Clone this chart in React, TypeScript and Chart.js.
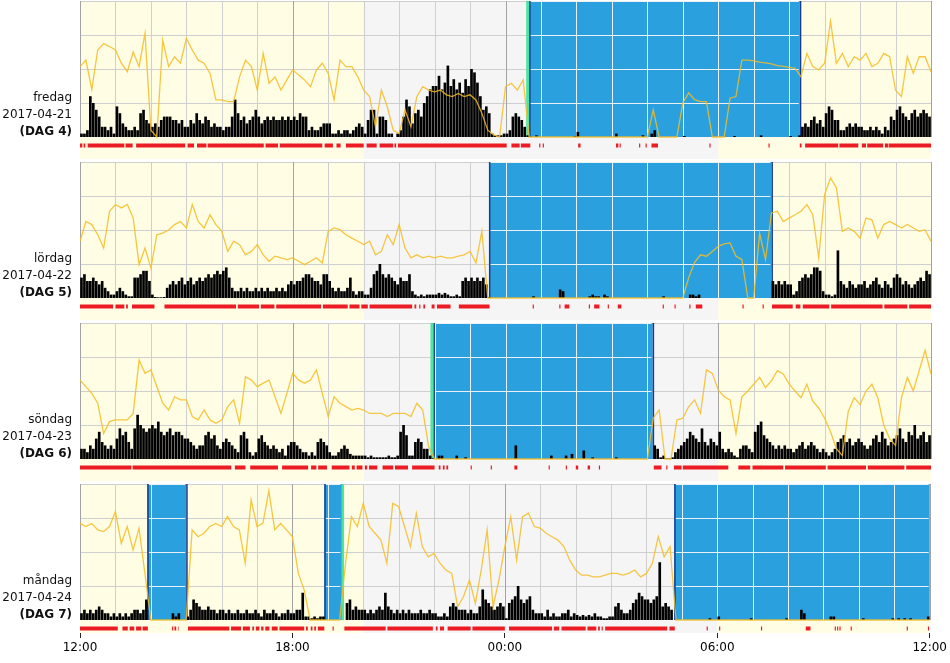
import React, { useEffect, useRef } from 'react';
import { Chart, registerables } from 'chart.js';

Chart.register(...registerables);

// ---------- text ----------
const DAY_NAMES = ['fredag', 'lördag', 'söndag', 'måndag'];
const DATES = ['2017-04-21', '2017-04-22', '2017-04-23', '2017-04-24'];
const DAY_TAGS = ['(DAG 4)', '(DAG 5)', '(DAG 6)', '(DAG 7)'];
const TICK_LABELS = ['12:00', '18:00', '00:00', '06:00', '12:00'];

// minutes after 12:00 ; night = 20:00 - 06:00
const NIGHT = [480, 1080];

// ---------- activity (5-minute bins, tenths of a grid division) ----------
const ACT_1 = [
  1, 1, 2, 12, 10, 8, 6, 3, 3, 2, 3, 1,
  9, 7, 4, 3, 2, 2, 3, 2, 7, 8, 5, 4,
  3, 4, 3, 5, 6, 6, 6, 5, 5, 4, 5, 3,
  3, 5, 4, 7, 5, 4, 6, 5, 3, 4, 3, 3,
  2, 3, 3, 6, 11, 7, 5, 6, 4, 5, 6, 8,
  6, 4, 5, 6, 5, 6, 5, 5, 6, 5, 6, 5,
  6, 5, 7, 6, 6, 2, 3, 2, 2, 3, 4, 4,
  4, 1, 1, 2, 1, 2, 2, 1, 2, 3, 4, 3,
  1, 5, 8, 8, 1, 6, 6, 5, 1, 1, 0, 1,
  2, 6, 11, 9, 4, 7, 8, 6, 10, 12, 14, 15,
  15, 18, 14, 16, 21, 15, 17, 14, 16, 13, 17, 15,
  20, 19, 16, 12, 8, 9, 7, 1, 0.5, 0.5, 0.5, 1,
  1, 2, 6, 7, 6, 5, 3, 0.5, 0.2, 0, 0.5, 0,
  0, 0, 0, 0, 0, 0, 0, 0, 0, 0, 0, 0.3,
  1.5, 0, 0, 0, 0, 0, 0, 0, 0, 0, 0, 0,
  0, 1, 0, 0, 0, 0, 0, 0, 0, 0, 0.5, 0,
  0, 1, 2, 0, 0, 0, 0, 0, 0, 0, 0, 0,
  0.3, 0, 0, 0, 0, 0, 0, 0, 0, 0, 0, 0,
  0, 0, 0, 0, 0, 0.3, 0, 0, 0, 0, 0, 0,
  0, 0, 0.5, 0, 0, 0, 0, 0, 0, 0, 0, 0,
  0.3, 0, 0, 0.5, 3, 4, 3, 5, 6, 4, 5, 3,
  7, 9, 8, 5, 5, 2, 2, 3, 4, 3, 4, 3,
  3, 2, 2, 3, 2, 3, 2, 1, 3, 2, 6, 5,
  8, 9, 7, 6, 5, 7, 8, 6, 7, 8, 7, 6,
];
const ACT_2 = [
  6, 7, 5, 5, 6, 5, 4, 5, 3, 2, 1, 1,
  2, 3, 2, 1, 0.5, 0.5, 6, 6, 7, 8, 8, 5,
  1, 0.3, 0.2, 0.2, 0.3, 3, 4, 5, 4, 5, 6, 4,
  5, 6, 4, 5, 6, 5, 6, 7, 6, 7, 8, 7,
  8, 9, 6, 3, 2, 2, 3, 2, 3, 2, 2, 3,
  2, 3, 2, 3, 2, 2, 3, 2, 3, 2, 4, 5,
  4, 5, 5, 6, 7, 7, 6, 5, 5, 4, 7, 7,
  5, 3, 2, 3, 2, 2, 3, 6, 2, 1, 2, 2,
  1, 1, 3, 7, 8, 10, 7, 6, 7, 6, 5, 4,
  6, 5, 5, 7, 2, 1, 0.5, 1, 0.5, 1, 1, 1,
  1, 1.5, 1, 1.5, 1, 0.5, 0.5, 1, 0.5, 5, 6, 5,
  6, 5, 6, 5, 6, 4, 0.3, 0, 0, 0, 0, 0,
  0, 0, 0, 0, 0, 0, 0, 0, 0, 0.5, 0, 0,
  0, 0, 0, 0, 0, 0, 2.5, 2, 0, 0, 0, 0,
  0, 0, 0, 0, 0.5, 1, 0.5, 0.5, 0, 1, 0.5, 0,
  0, 0, 0, 0, 0, 0, 0, 0, 0, 0, 0, 0,
  0, 0, 0, 0, 0, 0.5, 0, 0, 0, 0, 0, 0,
  0, 0, 1, 1, 0.5, 1, 0, 0, 0, 0, 0, 0,
  0, 0, 0, 0, 0, 0, 0, 0, 0, 0, 0, 0,
  0, 0, 0, 0, 0, 0, 5, 4, 5, 4, 5, 4,
  4, 1, 2, 5, 6, 7, 6, 7, 9, 9, 8, 2,
  1, 1, 0.5, 1, 14, 5, 4, 3, 5, 4, 3, 4,
  4, 5, 3, 4, 5, 6, 4, 3, 5, 4, 3, 6,
  7, 6, 4, 5, 4, 3, 4, 5, 6, 5, 8, 7,
];
const ACT_3 = [
  3, 3, 2, 4, 3, 6, 8, 5, 4, 3, 4, 3,
  6, 9, 7, 8, 5, 3, 9, 13, 10, 9, 8, 9,
  10, 9, 11, 8, 7, 8, 9, 7, 8, 8, 7, 6,
  6, 5, 4, 3, 4, 4, 7, 8, 6, 7, 4, 3,
  5, 6, 5, 4, 3, 2, 7, 8, 6, 2, 1, 2,
  6, 7, 5, 4, 3, 4, 3, 2, 3, 1, 4, 5,
  5, 4, 3, 2, 2, 1, 2, 1, 5, 6, 5, 4,
  2, 1, 1, 2, 3, 4, 3, 1.5, 1, 1, 1, 1,
  1, 0.5, 1, 0.5, 0.5, 0.5, 0.5, 0.5, 1, 0.5, 0.5, 1,
  8, 10, 7, 1, 1, 5, 6, 5, 3, 3, 1, 0.2,
  0, 1, 1, 0, 0, 0, 0, 1, 0, 0, 0.5, 0,
  0, 0, 0, 0, 0, 0, 0, 0, 0, 0, 0, 0,
  0, 0, 0, 4, 0, 0, 0, 0, 0, 0, 0, 0,
  0, 0, 0, 1, 0, 0, 0, 0, 1, 0, 1.5, 0,
  0, 0, 2.5, 0, 0, 0.5, 0, 0, 0, 0, 0, 0,
  0, 0.5, 0, 0, 0, 0, 0, 0, 0, 0, 0, 0,
  0, 0, 4, 3, 0.5, 1, 0.2, 0.2, 0.5, 2, 3, 4,
  5, 6, 8, 7, 6, 5, 9, 5, 4, 6, 5, 4,
  8, 3, 2, 3, 2, 1, 0.5, 3, 4, 4, 3, 2,
  8, 10, 11, 7, 6, 5, 4, 3, 4, 3, 4, 3,
  3, 2, 3, 4, 5, 3, 4, 5, 4, 3, 2, 3,
  2, 1, 2, 3, 5, 6, 7, 5, 6, 4, 5, 6,
  5, 4, 3, 4, 6, 7, 5, 8, 6, 4, 5, 6,
  7, 9, 6, 5, 8, 7, 10, 6, 7, 8, 5, 7,
];
const ACT_4 = [
  2, 3, 2, 3, 2, 3, 4, 3, 2, 2, 1, 2,
  1, 2, 1, 2, 1, 2, 3, 3, 2, 3, 6, 0,
  0, 0, 0, 0, 0, 0, 0, 2, 1, 2, 0, 0,
  1, 3, 6, 5, 4, 3, 3, 4, 3, 3, 2, 3,
  3, 2, 3, 2, 2, 3, 2, 2, 3, 2, 2, 3,
  2, 1, 3, 2, 2, 3, 2, 1, 2, 2, 3, 2,
  2, 3, 3, 8, 1, 1, 0.5, 1, 0.5, 1, 1, 0,
  0, 0, 0, 0, 0, 0, 5, 6, 3, 4, 3, 3,
  3, 2, 3, 2, 3, 4, 3, 8, 4, 3, 2, 3,
  2, 3, 2, 3, 2, 2, 2, 3, 2, 2, 3, 2,
  2, 1, 1, 2, 1, 4, 5, 4, 3, 3, 3, 2,
  3, 2, 2, 4, 9, 6, 5, 4, 3, 4, 5, 4,
  0.5, 5, 6, 7, 10, 6, 5, 6, 7, 3, 2, 2,
  2, 1, 3, 1, 2, 1, 1, 2, 2, 3, 1, 2,
  1.5, 1, 1.5, 1, 1.5, 1, 2, 1, 1, 0.5, 0.5, 1,
  1, 4, 5, 3, 2, 2, 3, 5, 6, 8, 7, 6,
  6, 5, 6, 7, 17, 4, 5, 4, 3, 0, 0, 0,
  0, 0, 0, 0, 0, 0, 0, 0, 0, 0.5, 0, 0,
  1, 0, 0, 0, 0, 0, 0, 0, 0, 0, 0, 0.5,
  0, 0, 0, 0, 0, 0, 0, 0, 0, 0, 0, 0.5,
  0, 0, 0, 0, 3, 2, 0, 0, 0, 0, 0, 0,
  0, 0, 1, 1, 0, 0, 0, 0, 0, 0, 0, 0,
  0, 0.5, 0, 0, 0, 0, 0, 0, 0, 0, 0, 0.5,
  0, 0.5, 0, 0.5, 0, 0.5, 0, 0, 0, 0, 0, 1,
];

// ---------- light (10-minute samples, 12:00 .. 12:00) ----------
const LIGHT_1 = [
  20.7, 22.6, 14, 25.6, 27.5, 26.6,
  25.6, 21.7, 19.2, 25, 20.7, 30.5,
  2, 0, 28.5, 20.7, 23.6, 21.7,
  29, 25.6, 22.6, 21.7, 18.7, 10.9,
  10.9, 10.4, 10.4, 17.7, 22.6, 20.7,
  13.8, 24.6, 15.8, 17.7, 13.8, 16.8,
  19.7, 18.2, 16.8, 14.8, 19.7, 21.7,
  18.7, 10.9, 22.6, 20.7, 20.7, 17.7,
  13.8, 11.9, 3, 13.8, 8.9, 2,
  1, 8, 3, 11.9, 14.8, 13.8,
  13.3, 13.8, 12.4, 11.9, 12.8, 11.9,
  12.4, 10.9, 7, 2, 0.6, 0,
  14.8, 15.8, 13.8, 16.8, 0, 0,
  0, 0, 0, 0, 0, 0,
  0, 0, 0, 0, 0, 0,
  0, 0, 0, 0, 0, 0,
  0, 8, 0, 0, 0, 0,
  10, 13, 11, 10.4, 10.4, 0,
  0, 0, 11.4, 11.9, 22.6, 22.6,
  22.4, 22, 21.8, 21.5, 21, 20.8,
  20.5, 20.2, 17.7, 24.6, 20.7, 19.7,
  21.7, 34, 21.7, 24.6, 20.7, 23.6,
  22.6, 24.6, 20.7, 21.7, 24.6, 23.6,
  13.8, 11.9, 23.6, 18.7, 23.6, 23.6,
  19.2,
];
const LIGHT_2 = [
  16.7, 22.5, 21.6, 18.6, 14.7, 25.5,
  27.5, 26.5, 27.5, 23.5, 9.8, 14.7,
  8.8, 18.6, 19.1, 20, 21.6, 22.5,
  20.6, 27.5, 22.5, 20.6, 24.5, 21.6,
  19.6, 13.7, 16.7, 15.7, 12.7, 13.7,
  15.7, 12.7, 10.8, 12.3, 11.8, 11.3,
  11.8, 10.8, 9.8, 10.8, 11.8, 10.3,
  19.6, 20.6, 20.1, 18.6, 17.6, 16.7,
  15.7, 16.7, 12.7, 13.7, 18.6, 15.7,
  21.6, 14.7, 11.8, 12.7, 11.8, 12.3,
  11.8, 12.3, 11.8, 11.8, 12.3, 12.7,
  13.7, 10.3, 19.6, 0, 0, 0,
  0, 0, 0, 0, 0, 0,
  0, 0, 0, 0, 0, 0,
  0, 0, 0, 0, 0, 0,
  0, 0, 0, 0, 0, 0,
  0, 0, 0, 0, 0, 0,
  0, 6, 10.5, 12.7, 12.3, 13.7,
  15.2, 15.9, 16.2, 12.3, 11.3, 0,
  0, 19, 11.3, 25, 25.5, 22.5,
  23.5, 24.5, 25.5, 27.5, 24.5, 11.8,
  30.4, 35.3, 32.4, 19.6, 20.6, 19.6,
  17.6, 23.5, 23, 17.6, 21.6, 22.5,
  21.6, 20.6, 21.6, 20.6, 19.6, 20.1,
  16.7,
];
const LIGHT_3 = [
  23.2, 21.3, 19.3, 16.4, 7.5, 11,
  11.5, 11.5, 11.5, 13.4, 29.1, 25.2,
  26.2, 21.3, 16.4, 14.4, 18.3, 17.4,
  17.4, 12.5, 11.5, 14.4, 11.5, 10.5,
  11.5, 15.4, 17.4, 10.5, 24.2, 23.2,
  21.3, 22.3, 23.2, 18.3, 13.4, 19.3,
  25.2, 23.2, 22.3, 23.2, 26.2, 19.3,
  12.5, 18.3, 16.4, 15.4, 14.4, 14.9,
  14.4, 13.4, 13.4, 13.4, 12.5, 13.4,
  13.4, 13.4, 12.5, 16.4, 14.4, 3.6,
  0, 0, 0, 0, 0, 0,
  0, 0, 0, 0, 0, 0,
  0, 0, 0, 0, 0, 0,
  0, 0, 0, 0, 0, 0,
  0, 0, 0, 0, 0, 0,
  0, 0, 0, 0, 0, 0,
  0, 12, 14.4, 0, 0, 11.5,
  12, 15.4, 17.4, 13.4, 26.2, 25.2,
  20.3, 18.3, 17.4, 7.5, 18.3, 20,
  22, 24, 21, 23, 26, 25,
  22, 20, 18, 22, 17, 15,
  12, 8, 3, 1, 14, 18,
  16, 20, 22, 18, 10, 6,
  4, 18, 24, 20, 26, 32,
  25,
];
const LIGHT_4 = [
  28.4, 27.5, 28.4, 26.5, 26, 27.5,
  31.9, 22.5, 27.5, 20.6, 27, 13.7,
  0, 0, 0, 0, 0, 0,
  0, 26.5, 24.5, 25.5, 27.5, 28.4,
  27.5, 30.4, 27.5, 26.5, 16.7, 35.3,
  27.5, 28.4, 38, 26.5, 28.4, 26.5,
  24.5, 13.7, 8.8, 0, 0, 0,
  0, 0, 0, 16.7, 30.4, 27.5,
  34.3, 27.5, 25.5, 23.5, 16.7, 34.3,
  33.3, 27.5, 21.6, 31.4, 21.6, 18.6,
  19.6, 16.7, 14.7, 13.7, 3.9, 6.9,
  11.8, 4.9, 14.7, 26.5, 3.9, 11.8,
  21.6, 30.4, 17.6, 30.4, 31.4, 27.5,
  27, 25.5, 24.5, 23.5, 21.6, 17.6,
  14.7, 13.2, 13.2, 12.7, 12.7, 13.2,
  13.7, 13.7, 13.2, 13.7, 14.7, 12.7,
  13.7, 16.7, 24.5, 18.6, 21.6, 0,
  0, 0, 0, 0, 0, 0,
  0, 0, 0, 0, 0, 0,
  0, 0, 0, 0, 0, 0,
  0, 0, 0, 0, 0, 0,
  0, 0, 0, 0, 0, 0,
  0, 0, 0, 0, 0, 0,
  0, 0, 0, 0, 0, 0,
  0,
];

// ---------- red marker strip (intervals, minutes after 12:00) ----------
const MARKS_1 = [
  [0, 4], [6, 9], [13, 75], [77, 89], [95, 178], [182, 193], [198, 214], [216, 311],
  [314, 335], [338, 410], [414, 428], [434, 441], [450, 480], [485, 502], [507, 530],
  [532, 535], [538, 722], [730, 744], [746, 762], [777, 779], [783, 785], [843, 847],
  [907, 911], [913, 915], [946, 948], [957, 959], [967, 978], [1065, 1067], [1165, 1167],
  [1218, 1221], [1227, 1283], [1285, 1317], [1323, 1330], [1332, 1359], [1362, 1368], [1369, 1440],
];
const MARKS_2 = [
  [0, 56], [60, 75], [78, 81], [88, 126], [143, 264], [267, 303], [306, 329], [332, 408],
  [411, 453], [456, 473], [476, 487], [490, 562], [566, 569], [574, 576], [581, 584],
  [595, 600], [604, 627], [641, 693], [766, 768], [811, 813], [820, 828], [861, 863],
  [870, 879], [893, 895], [910, 916], [986, 988], [1006, 1008], [1031, 1033], [1042, 1053],
  [1121, 1123], [1155, 1157], [1171, 1206], [1211, 1219], [1223, 1268], [1271, 1358],
  [1361, 1400], [1403, 1440],
];
const MARKS_3 = [
  [0, 87], [89, 256], [262, 280], [288, 335], [342, 386], [391, 400], [403, 418],
  [426, 456], [460, 465], [468, 478], [482, 486], [489, 503], [512, 530], [533, 555],
  [562, 600], [607, 610], [614, 617], [620, 623], [661, 663], [695, 697], [735, 740],
  [793, 795], [822, 824], [839, 843], [859, 863], [878, 880], [971, 984], [992, 994],
  [1005, 1018], [1020, 1097], [1114, 1134], [1138, 1190], [1193, 1262], [1265, 1330],
  [1333, 1395], [1398, 1440],
];
const MARKS_4 = [
  [0, 64], [72, 81], [84, 92], [95, 104], [106, 115], [156, 158], [160, 163], [166, 167],
  [183, 253], [256, 273], [276, 288], [292, 295], [298, 304], [307, 311], [314, 321],
  [325, 335], [338, 380], [383, 386], [391, 394], [397, 400], [403, 414], [428, 430],
  [434, 435], [448, 518], [521, 598], [603, 606], [610, 617], [623, 662], [665, 720],
  [727, 800], [803, 812], [816, 857], [860, 875], [878, 881], [884, 886], [890, 995],
  [999, 1008], [1062, 1064], [1083, 1085], [1154, 1156], [1230, 1238], [1279, 1281],
  [1283, 1285], [1287, 1289], [1306, 1308], [1401, 1403], [1437, 1439],
];

// ---------- sleep periods (blue) and onset markers (green) ----------
const SLEEP_1 = [[760, 1218]];
const SLEEP_2 = [[692, 1170]];
const SLEEP_3 = [[598, 969]];
const SLEEP_4 = [[114, 180], [414, 443], [1007, 1440]];
const ONSET_1 = [[755, 760]];
const ONSET_2: number[][] = [];
const ONSET_3 = [[593, 598]];
const ONSET_4 = [[443, 447.5]];

const PANELS = [
  { act: ACT_1, light: LIGHT_1, marks: MARKS_1, sleep: SLEEP_1, onset: ONSET_1 },
  { act: ACT_2, light: LIGHT_2, marks: MARKS_2, sleep: SLEEP_2, onset: ONSET_2 },
  { act: ACT_3, light: LIGHT_3, marks: MARKS_3, sleep: SLEEP_3, onset: ONSET_3 },
  { act: ACT_4, light: LIGHT_4, marks: MARKS_4, sleep: SLEEP_4, onset: ONSET_4 },
];

// ---------- style ----------
const YELLOW = '#fffde3';
const GRAY = '#f5f5f5';
const BLUE = '#2aa1de';
const NAVY = '#1b3c8e';
const GREEN = '#4fe3a0';
const GRID = '#cfcfcf';
const GRID_MAJOR = '#a3a3a3';
const GRID_ON_BLUE = '#e9f1f6';
const RED = '#ec1c24';
const LIGHT_COLOR = 'rgba(244,188,36,0.85)';
const FONT = '"DejaVu Sans", Verdana, sans-serif';
const STRIP_Y = -2.5;
const PANEL_STEP = 161;
const LAST_H = 663 - 3 * PANEL_STEP;

function Panel({ idx }: { idx: number }) {
  const ref = useRef<HTMLCanvasElement>(null);
  const last = idx === PANELS.length - 1;
  const h = last ? LAST_H : PANEL_STEP;

  useEffect(() => {
    const p = PANELS[idx];
    const areaBottom = last ? 150 : 159;
    const yMin = 40 - (areaBottom - 1) / 3.4;

    const stripData: { x: number; y: number | null }[] = [];
    p.marks.forEach(([s, e]) => {
      stripData.push({ x: s, y: STRIP_Y }, { x: e, y: STRIP_Y }, { x: e, y: null });
    });

    const backdrop = {
      id: 'backdrop' + idx,
      beforeDatasetsDraw(chart: any) {
        const { ctx, chartArea: a, scales } = chart;
        const x = scales.x;
        const y = scales.y;
        const yTop = y.getPixelForValue(40);
        const yBase = y.getPixelForValue(0);
        ctx.save();
        ctx.fillStyle = YELLOW;
        ctx.fillRect(a.left, a.top, a.right - a.left, a.bottom - a.top);
        const n0 = x.getPixelForValue(NIGHT[0]);
        const n1 = x.getPixelForValue(NIGHT[1]);
        ctx.fillStyle = GRAY;
        ctx.fillRect(n0, a.top, n1 - n0, a.bottom - a.top);

        const drawGrid = (minor: string, major: string) => {
          ctx.lineWidth = 1;
          for (let v = 10; v <= 40; v += 10) {
            const py = Math.round(y.getPixelForValue(v)) + 0.5;
            ctx.strokeStyle = minor;
            ctx.beginPath();
            ctx.moveTo(a.left, py);
            ctx.lineTo(a.right, py);
            ctx.stroke();
          }
          for (let hr = 0; hr <= 24; hr++) {
            const px = Math.round(x.getPixelForValue(hr * 60)) + 0.5;
            ctx.strokeStyle = hr % 6 === 0 ? major : minor;
            ctx.beginPath();
            ctx.moveTo(px, yTop);
            ctx.lineTo(px, yBase);
            ctx.stroke();
          }
        };
        drawGrid(GRID, GRID_MAJOR);

        p.sleep.forEach(([s, e]) => {
          const x0 = x.getPixelForValue(s);
          const x1 = x.getPixelForValue(e);
          ctx.fillStyle = BLUE;
          ctx.fillRect(x0, yTop, x1 - x0, yBase - yTop);
          ctx.save();
          ctx.beginPath();
          ctx.rect(x0 + 1, yTop, x1 - x0 - 2, yBase - yTop);
          ctx.clip();
          drawGrid(GRID_ON_BLUE, GRID_ON_BLUE);
          ctx.restore();
          ctx.strokeStyle = NAVY;
          ctx.lineWidth = 1.5;
          [x0, x1].forEach((px) => {
            if (px < a.right - 1) {
              ctx.beginPath();
              ctx.moveTo(px + 0.75, yTop);
              ctx.lineTo(px + 0.75, yBase);
              ctx.stroke();
            }
          });
        });
        p.onset.forEach(([s, e]) => {
          const x0 = x.getPixelForValue(s);
          const x1 = x.getPixelForValue(e);
          ctx.fillStyle = GREEN;
          ctx.fillRect(x0, yTop, x1 - x0, yBase - yTop);
        });
        ctx.restore();
      },
      afterDraw(chart: any) {
        const { ctx, chartArea: a } = chart;
        ctx.save();
        ctx.fillStyle = '#111';
        ctx.textAlign = 'right';
        ctx.textBaseline = 'alphabetic';
        ctx.font = '12px ' + FONT;
        ctx.fillText(DAY_NAMES[idx], 72, a.top + 100);
        ctx.fillText(DATES[idx], 72, a.top + 117);
        ctx.font = 'bold 12px ' + FONT;
        ctx.fillText(DAY_TAGS[idx], 72, a.top + 134);
        ctx.restore();
      },
    };

    const xScale: any = {
      type: 'linear',
      min: 0,
      max: 1440,
      offset: false,
      display: last,
      grid: {
        display: true,
        drawOnChartArea: false,
        drawTicks: true,
        tickLength: 5,
        color: '#222',
        offset: false,
      },
      border: { display: false },
      ticks: {
        stepSize: 360,
        autoSkip: false,
        maxRotation: 0,
        color: '#000',
        padding: 3,
        font: { family: FONT, size: 12 },
        callback: (v: any) => TICK_LABELS[Math.round(Number(v) / 360)] ?? '',
      },
    };
    if (last) {
      xScale.afterFit = (s: any) => {
        s.height = 30;
      };
    }

    const chart = new Chart(ref.current as HTMLCanvasElement, {
      type: 'bar',
      data: {
        datasets: [
          {
            type: 'line',
            data: p.light.map((v, i) => ({ x: i * 10, y: v })),
            borderColor: LIGHT_COLOR,
            borderWidth: 1.3,
            pointRadius: 0,
            tension: 0,
            fill: false,
            order: 0,
          } as any,
          {
            type: 'line',
            data: stripData,
            borderColor: RED,
            borderWidth: 4,
            borderCapStyle: 'butt',
            pointRadius: 0,
            tension: 0,
            spanGaps: false,
            fill: false,
            order: 1,
          } as any,
          {
            type: 'bar',
            data: p.act.map((v, i) => ({ x: i * 5 + 2.5, y: v })),
            backgroundColor: '#000',
            barPercentage: 1,
            categoryPercentage: 0.9,
            grouped: false,
            order: 2,
          } as any,
        ],
      },
      options: {
        animation: false,
        responsive: false,
        maintainAspectRatio: false,
        events: [],
        layout: { padding: { left: 80, right: 19, top: 1, bottom: last ? 0 : 2 } },
        plugins: { legend: { display: false }, tooltip: { enabled: false } },
        scales: {
          x: xScale,
          y: { min: yMin, max: 40, display: false },
        },
      } as any,
      plugins: [backdrop],
    });
    return () => chart.destroy();
  }, [idx, last]);

  return (
    <canvas
      ref={ref}
      width={950}
      height={h}
      style={{ position: 'absolute', left: 0, top: idx * PANEL_STEP, width: 950, height: h }}
    />
  );
}

export default function App() {
  return (
    <div style={{ position: 'absolute', left: 0, top: 0, width: 950, height: 663, background: '#fff' }}>
      {PANELS.map((_, i) => (
        <Panel key={i} idx={i} />
      ))}
    </div>
  );
}
